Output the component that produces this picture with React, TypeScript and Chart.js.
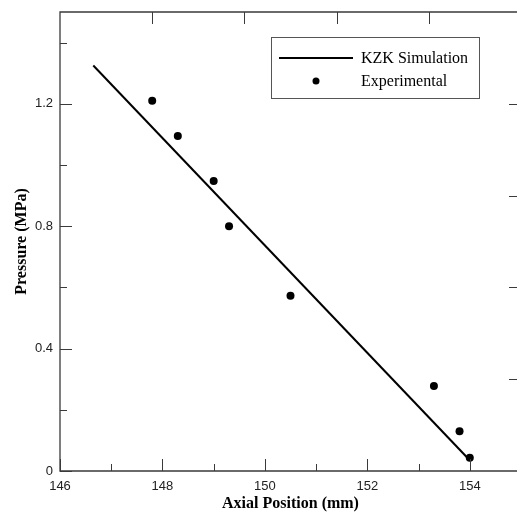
import React, { useEffect, useRef } from "react";
import { Chart, registerables } from "chart.js";

Chart.register(...registerables);

// ---- data ----
const simLabel = "KZK Simulation";
const expLabel = "Experimental";
const simX = [146.65, 154.0];
const simY = [1.325, 0.035];
const expX = [147.8, 148.3, 149.0, 149.3, 150.5, 153.3, 153.8, 154.0];
const expY = [1.21, 1.095, 0.948, 0.80, 0.573, 0.278, 0.13, 0.043];

const xMajor = [146, 148, 150, 152, 154];
const xMinor = [147, 149, 151, 153];
const yMajor = [0, 0.4, 0.8, 1.2];
const yMinor = [0.2, 0.6, 1.0, 1.4];
const topTicks = [1, 2, 3, 4];
const rightTicks = [1, 2, 3, 4];

const xTitle = "Axial Position (mm)";
const yTitle = "Pressure (MPa)";

const AXIS_COLOR = "#3a3a3a";
const SERIF = "'Liberation Serif', 'Times New Roman', serif";
const SANS = "'Liberation Sans', Arial, sans-serif";

const framePlugin = {
  id: "frameTicks",
  afterDatasetsDraw(chart: any) {
    const { ctx, chartArea: a, scales } = chart;
    ctx.save();
    ctx.strokeStyle = AXIS_COLOR;
    ctx.lineWidth = 1.3;
    ctx.beginPath();
    ctx.rect(a.left, a.top, a.right - a.left, a.bottom - a.top);
    ctx.stroke();
    ctx.lineWidth = 1;
    const MAJ = 12, MIN = 7;
    ctx.beginPath();
    xMajor.forEach((v) => {
      const p = Math.round(scales.x.getPixelForValue(v)) + 0.5;
      ctx.moveTo(p, a.bottom); ctx.lineTo(p, a.bottom - MAJ);
    });
    xMinor.forEach((v) => {
      const p = Math.round(scales.x.getPixelForValue(v)) + 0.5;
      ctx.moveTo(p, a.bottom); ctx.lineTo(p, a.bottom - MIN);
    });
    yMajor.forEach((v) => {
      const p = Math.round(scales.y.getPixelForValue(v)) + 0.5;
      ctx.moveTo(a.left, p); ctx.lineTo(a.left + MAJ, p);
    });
    yMinor.forEach((v) => {
      const p = Math.round(scales.y.getPixelForValue(v)) + 0.5;
      ctx.moveTo(a.left, p); ctx.lineTo(a.left + MIN, p);
    });
    topTicks.forEach((v) => {
      const p = Math.round(scales.x2.getPixelForValue(v)) + 0.5;
      ctx.moveTo(p, a.top); ctx.lineTo(p, a.top + MAJ);
    });
    rightTicks.forEach((v) => {
      const p = Math.round(scales.y2.getPixelForValue(v)) + 0.5;
      ctx.moveTo(a.right, p); ctx.lineTo(a.right - MAJ, p);
    });
    ctx.stroke();

    // legend
    const lx = 271.5, ly = 37.5, lw = 208, lh = 61;
    ctx.fillStyle = "#fff";
    ctx.fillRect(lx, ly, lw, lh);
    ctx.strokeStyle = "#555";
    ctx.lineWidth = 1;
    ctx.strokeRect(lx, ly, lw, lh);
    ctx.strokeStyle = "#000";
    ctx.lineWidth = 2;
    ctx.beginPath();
    ctx.moveTo(279, 58); ctx.lineTo(353, 58);
    ctx.stroke();
    ctx.fillStyle = "#000";
    ctx.beginPath();
    ctx.arc(316, 81, 3.5, 0, Math.PI * 2);
    ctx.fill();
    ctx.font = "16px " + SERIF;
    ctx.textBaseline = "middle";
    ctx.textAlign = "left";
    ctx.fillText(simLabel, 361, 59);
    ctx.fillText(expLabel, 361, 82);
    ctx.restore();
  },
};

export default function App() {
  const ref = useRef<HTMLCanvasElement>(null);
  useEffect(() => {
    if (!ref.current) return;
    const chart = new Chart(ref.current, {
      type: "scatter",
      data: {
        datasets: [
          {
            label: simLabel,
            data: simX.map((x, i) => ({ x, y: simY[i] })),
            showLine: true,
            borderColor: "#000",
            borderWidth: 2,
            pointRadius: 0,
            xAxisID: "x",
            yAxisID: "y",
          },
          {
            label: expLabel,
            data: expX.map((x, i) => ({ x, y: expY[i] })),
            showLine: false,
            backgroundColor: "#000",
            borderWidth: 0,
            pointRadius: 4,
            xAxisID: "x",
            yAxisID: "y",
          },
        ],
      },
      options: {
        animation: false,
        responsive: false,
        events: [],
        layout: { padding: { left: 0, top: 12, right: 9, bottom: 0 } },
        plugins: { legend: { display: false }, tooltip: { enabled: false } },
        scales: {
          x: {
            type: "linear",
            position: "bottom",
            min: 146,
            max: 155,
            afterBuildTicks: (s: any) => { s.ticks = xMajor.map((v) => ({ value: v })); },
            afterFit: (s: any) => { s.height = 42; s.paddingLeft = 0; s.paddingRight = 0; },
            grid: { display: false, drawTicks: false },
            border: { display: false },
            ticks: {
              color: "#222",
              font: { family: SANS, size: 13 },
              padding: 8,
              maxRotation: 0,
              autoSkip: false,
              callback: (v: any) => String(v),
            },
            title: {
              display: true,
              text: xTitle,
              color: "#000",
              font: { family: SERIF, size: 16, weight: "bold" },
              padding: { top: 0, bottom: 0 },
            },
          },
          y: {
            type: "linear",
            position: "left",
            min: 0,
            max: 1.5,
            afterBuildTicks: (s: any) => { s.ticks = yMajor.map((v) => ({ value: v })); },
            afterFit: (s: any) => { s.width = 60; s.paddingTop = 0; s.paddingBottom = 0; },
            grid: { display: false, drawTicks: false },
            border: { display: false },
            ticks: {
              color: "#222",
              font: { family: SANS, size: 13 },
              padding: 7,
              autoSkip: false,
              callback: (v: any) => (v === 0 ? "0" : Number(v).toFixed(1)),
            },
            title: {
              display: true,
              text: yTitle,
              color: "#000",
              font: { family: SERIF, size: 16, weight: "bold" },
              padding: { top: 12, bottom: 0 },
            },
          },
          x2: { type: "linear", position: "top", min: 0, max: 5, display: false },
          y2: { type: "linear", position: "right", min: 0, max: 5, display: false },
        },
      } as any,
      plugins: [framePlugin],
    });
    return () => chart.destroy();
  }, []);
  return (
    <div style={{ position: "fixed", left: 0, top: 0, width: 517, height: 513, overflow: "hidden", background: "#fff" }}>
      <canvas ref={ref} width={530} height={513} style={{ width: 530, height: 513, display: "block" }} />
    </div>
  );
}
